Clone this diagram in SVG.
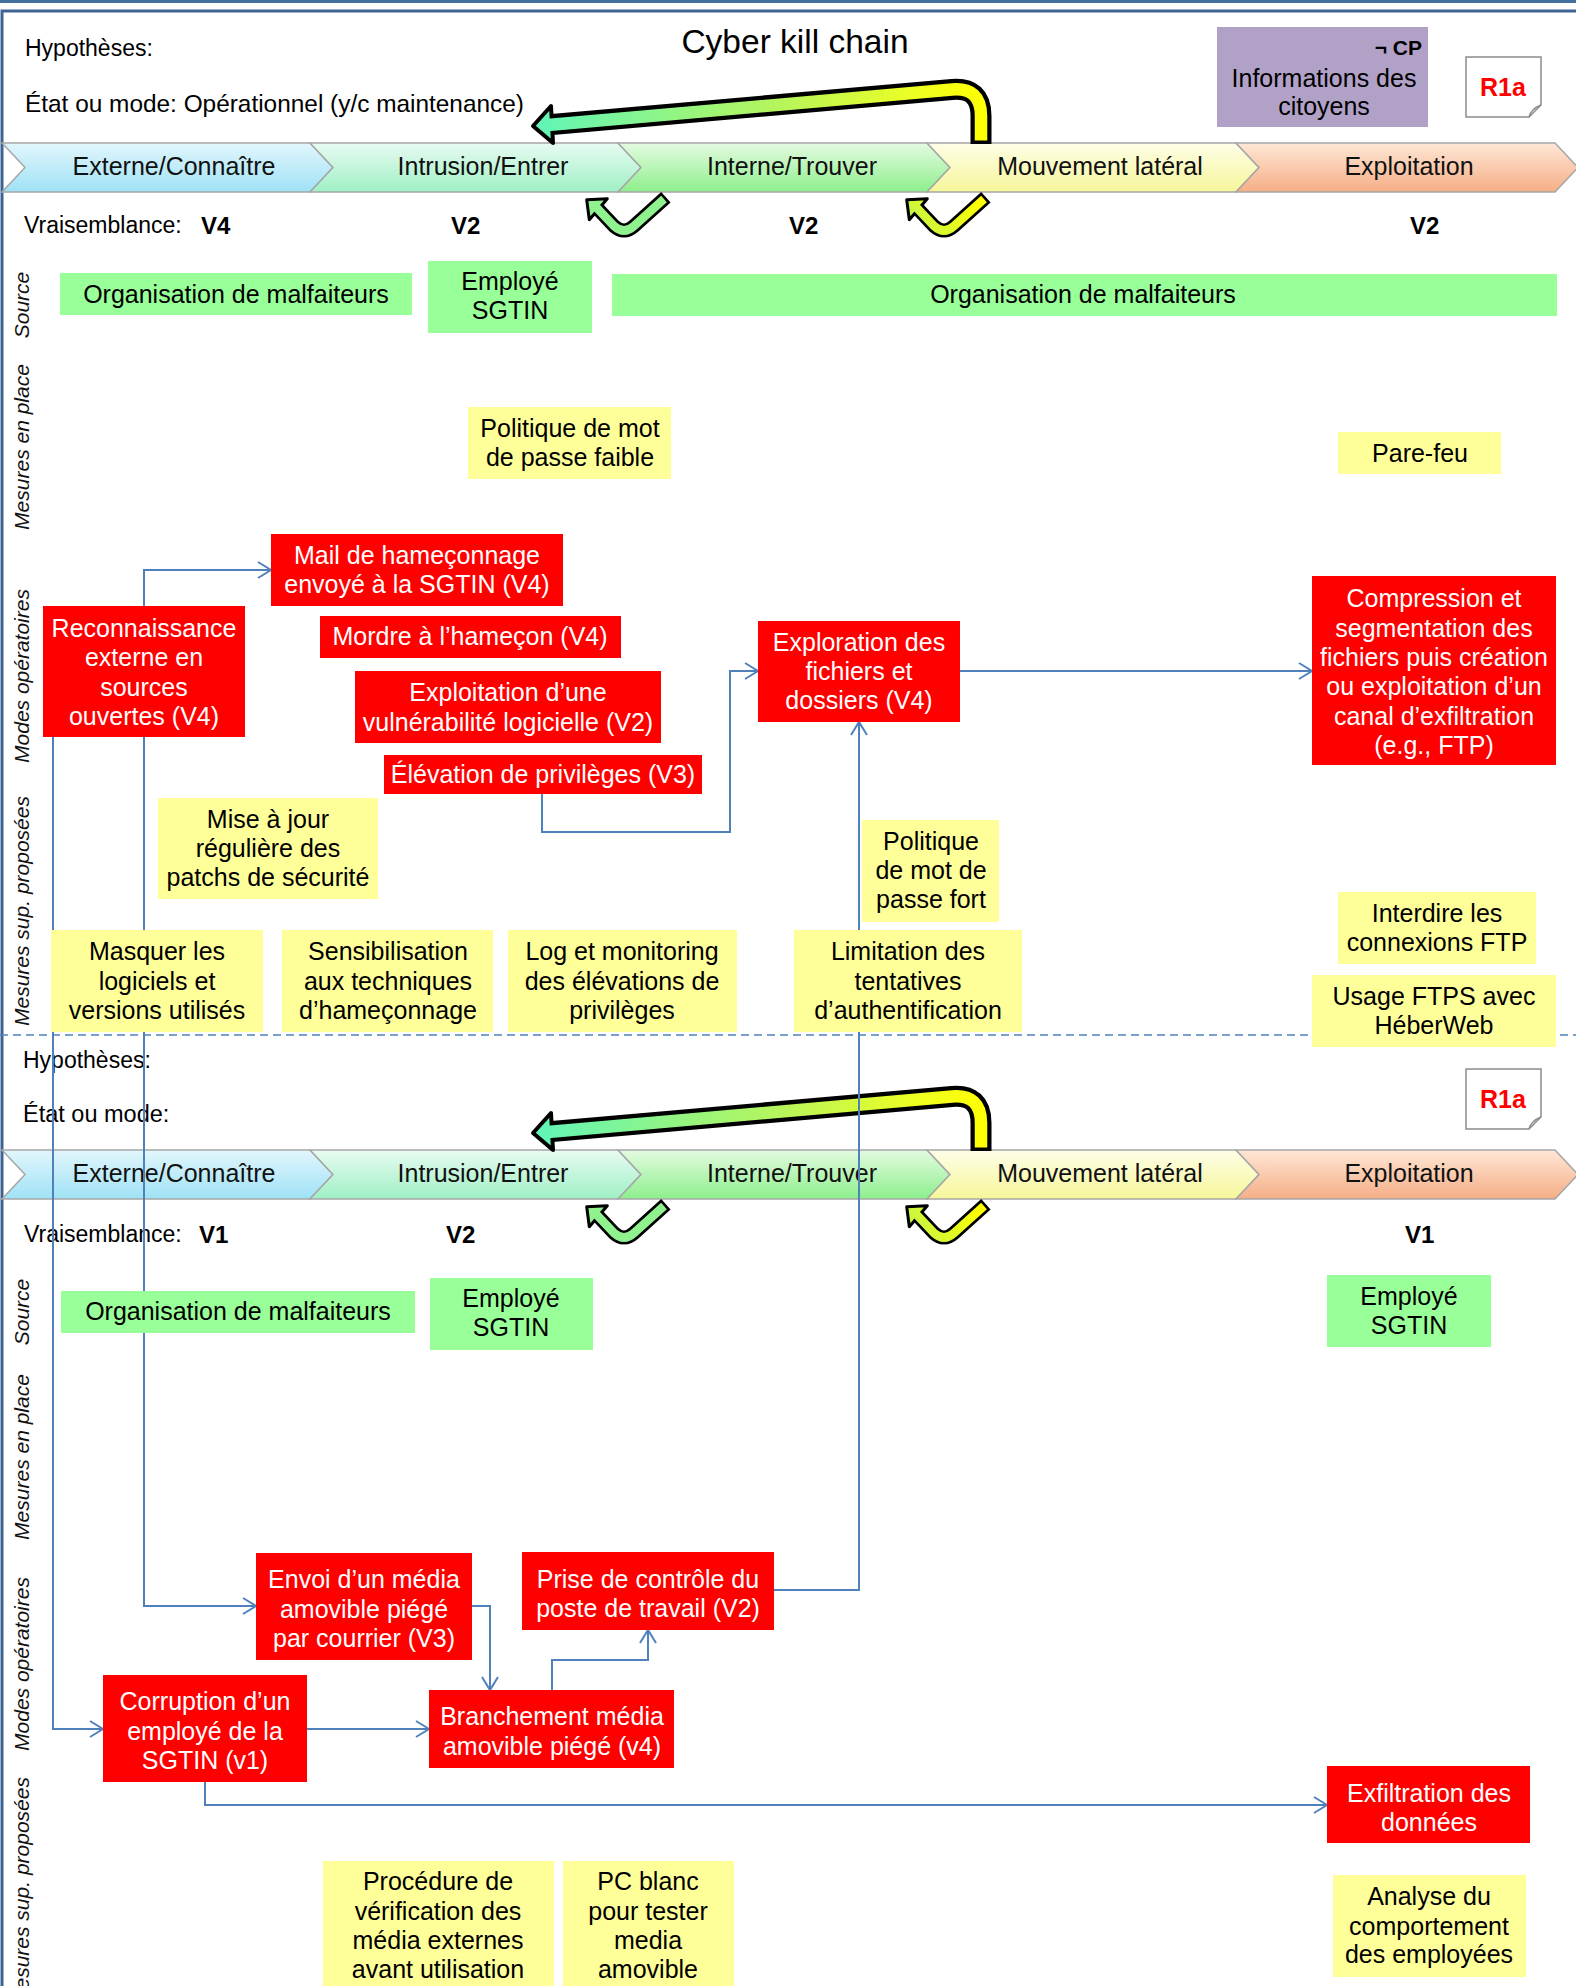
<svg xmlns="http://www.w3.org/2000/svg" width="1576" height="1986" viewBox="0 0 1576 1986">
<style>
text{font-family:"Liberation Sans",Arial,sans-serif;}
.t{font-size:25px;fill:#000;text-anchor:middle;}
.w{font-size:25px;fill:#fff;text-anchor:middle;}
.band{font-size:25px;fill:#111;text-anchor:middle;}
.hyp{font-size:23px;fill:#000;}
.vr{font-size:23px;fill:#000;}
.vb{font-size:24px;font-weight:bold;fill:#000;}
.lane{font-size:21px;font-style:italic;fill:#111;text-anchor:middle;}
.red{fill:#ff0000;}
.grn{fill:#99ff99;}
.yel{fill:#ffff99;}
.seg{stroke:#a6a6a6;stroke-width:1.5;}
.cn{fill:none;stroke:#4f81bd;stroke-width:2;marker-end:url(#arr);}
</style>
<defs>
<marker id="arr" viewBox="-15 -10 17 20" refX="0" refY="0" markerWidth="17" markerHeight="20" markerUnits="userSpaceOnUse" orient="auto">
<path d="M -13 -8 L 0 0 L -13 8" fill="none" stroke="#4f81bd" stroke-width="2"/>
</marker>
<linearGradient id="g1" x1="0" y1="0" x2="0" y2="1"><stop offset="0" stop-color="#e2f6fc"/><stop offset="1" stop-color="#9fe2f6"/></linearGradient>
<linearGradient id="g2" x1="0" y1="0" x2="0" y2="1"><stop offset="0" stop-color="#e8fbf2"/><stop offset="1" stop-color="#9ff0c5"/></linearGradient>
<linearGradient id="g3" x1="0" y1="0" x2="0" y2="1"><stop offset="0" stop-color="#e4fbe1"/><stop offset="1" stop-color="#8def8c"/></linearGradient>
<linearGradient id="g4" x1="0" y1="0" x2="0" y2="1"><stop offset="0" stop-color="#fefee8"/><stop offset="1" stop-color="#f6f69a"/></linearGradient>
<linearGradient id="g5" x1="0" y1="0" x2="0" y2="1"><stop offset="0" stop-color="#fee7d6"/><stop offset="1" stop-color="#f6ae86"/></linearGradient>
<linearGradient id="big" gradientUnits="userSpaceOnUse" x1="533" y1="0" x2="990" y2="0"><stop offset="0" stop-color="#60f5b8"/><stop offset="0.55" stop-color="#b8f55a"/><stop offset="0.85" stop-color="#f0ff20"/><stop offset="1" stop-color="#ffff00"/></linearGradient>
<linearGradient id="chk2" gradientUnits="userSpaceOnUse" x1="660" y1="198" x2="590" y2="235"><stop offset="0" stop-color="#ffff00"/><stop offset="1" stop-color="#c2f54a"/></linearGradient>
<g id="band">
<polygon class="seg" fill="url(#g1)" points="2,143 310,143 333,167.5 310,192 2,192 25,167.5"/>
<polygon class="seg" fill="url(#g2)" points="310,143 618,143 641,167.5 618,192 310,192 333,167.5"/>
<polygon class="seg" fill="url(#g3)" points="618,143 927,143 950,167.5 927,192 618,192 641,167.5"/>
<polygon class="seg" fill="url(#g4)" points="927,143 1236,143 1259,167.5 1236,192 927,192 950,167.5"/>
<polygon class="seg" fill="url(#g5)" points="1236,143 1555,143 1578,167.5 1555,192 1236,192 1259,167.5"/>
<text class="band" x="174" y="175">Externe/Connaître</text>
<text class="band" x="483" y="175">Intrusion/Entrer</text>
<text class="band" x="792" y="175">Interne/Trouver</text>
<text class="band" x="1100" y="175">Mouvement latéral</text>
<text class="band" x="1409" y="175">Exploitation</text>
</g>
<g id="bigarrow">
<path d="M 552 124.5 L 952 89.5 Q 981 87 981 116 L 981 144" fill="none" stroke="#000" stroke-width="21"/>
<polygon points="533,126 551,106 553,143" fill="url(#big)" stroke="#000" stroke-width="4" stroke-linejoin="round"/>
<path d="M 548 125 L 952 89.5 Q 981 87 981 116 L 981 140.5" fill="none" stroke="url(#big)" stroke-width="12.5"/>
</g>
<g id="chkA">
<path d="M 598 209 L 614 226 Q 624 235 634 226 L 665.9 197.3" fill="none" stroke="#000" stroke-width="14" stroke-linejoin="round"/>
<polygon points="586.7,199.7 607.3,198.7 589.3,219.7" fill="#8ff28f" stroke="#000" stroke-width="3" stroke-linejoin="round"/>
<path d="M 596 207 L 614 226 Q 624 235 634 226 L 664 199" fill="none" stroke="#8ff28f" stroke-width="8.5" stroke-linejoin="round"/>
</g>
<g id="chkB">
<path d="M 598 209 L 614 226 Q 624 235 634 226 L 665.9 197.3" fill="none" stroke="#000" stroke-width="14" stroke-linejoin="round"/>
<polygon points="586.7,199.7 607.3,198.7 589.3,219.7" fill="url(#chk2)" stroke="#000" stroke-width="3" stroke-linejoin="round"/>
<path d="M 596 207 L 614 226 Q 624 235 634 226 L 664 199" fill="none" stroke="url(#chk2)" stroke-width="8.5" stroke-linejoin="round"/>
</g>
<g id="r1a">
<path d="M 1466 57 H 1541 V 105 L 1529 117 H 1466 Z" fill="#fff" stroke="#8c8c8c" stroke-width="1.5"/>
<path d="M 1529 117 Q 1531 109 1541 105" fill="none" stroke="#8c8c8c" stroke-width="1.5"/>
<text x="1503" y="96" style="font-size:25px;font-weight:bold;fill:#ff0000;text-anchor:middle">R1a</text>
</g>
</defs>

<rect width="1576" height="1986" fill="#fff"/>
<g id="frame">
<line x1="0" y1="1.5" x2="1576" y2="1.5" stroke="#41719c" stroke-width="3"/>
<rect x="2" y="11" width="1600" height="2000" fill="none" stroke="#3d6391" stroke-width="3"/>
</g>

<!-- Section 1 header -->
<g id="header1">
<text class="hyp" x="25" y="56">Hypothèses:</text>
<text x="25" y="112" style="font-size:24.4px">État ou mode: Opérationnel (y/c maintenance)</text>
<text x="795" y="53" style="font-size:33.5px;text-anchor:middle">Cyber kill chain</text>
</g>
<g id="actif">
<rect x="1217" y="27" width="211" height="100" fill="#b2a1c7"/>
<text x="1422" y="55" style="font-size:21px;font-weight:bold;text-anchor:end">¬ CP</text>
<text class="t" x="1324" y="87">Informations des</text>
<text class="t" x="1324" y="115">citoyens</text>
</g>
<use href="#r1a"/>
<use href="#band"/>
<use href="#bigarrow"/>
<use href="#chkA"/>
<use href="#chkB" transform="translate(320,0)"/>
<g id="vrais1">
<text class="vr" x="24" y="233">Vraisemblance:</text>
<text class="vb" x="201" y="234">V4</text>
<text class="vb" x="451" y="234">V2</text>
<text class="vb" x="789" y="234">V2</text>
<text class="vb" x="1410" y="234">V2</text>
</g>
<g id="lanes1">
<text class="lane" transform="translate(29,305) rotate(-90)">Source</text>
<text class="lane" transform="translate(29,447) rotate(-90)">Mesures en place</text>
<text class="lane" transform="translate(29,676) rotate(-90)">Modes opératoires</text>
<text class="lane" transform="translate(29,911) rotate(-90)">Mesures sup. proposées</text>
</g>
<line x1="0" y1="1035" x2="1576" y2="1035" stroke="#4f81bd" stroke-width="1.5" stroke-dasharray="8 5"/>

<!-- Section 2 header -->
<g id="header2">
<text class="hyp" x="23" y="1068">Hypothèses:</text>
<text x="23" y="1122" style="font-size:23.5px">État ou mode:</text>
</g>
<use href="#r1a" transform="translate(0,1012)"/>
<use href="#band" transform="translate(0,1007)"/>
<use href="#bigarrow" transform="translate(0,1007)"/>
<use href="#chkA" transform="translate(0,1007)"/>
<use href="#chkB" transform="translate(320,1007)"/>
<g id="vrais2">
<text class="vr" x="24" y="1242">Vraisemblance:</text>
<text class="vb" x="199" y="1243">V1</text>
<text class="vb" x="446" y="1243">V2</text>
<text class="vb" x="1405" y="1243">V1</text>
</g>
<g id="lanes2">
<text class="lane" transform="translate(29,1312) rotate(-90)">Source</text>
<text class="lane" transform="translate(29,1457) rotate(-90)">Mesures en place</text>
<text class="lane" transform="translate(29,1664) rotate(-90)">Modes opératoires</text>
<text class="lane" transform="translate(29,1892) rotate(-90)">Mesures sup. proposées</text>
</g>

<g id="connectors">
<path class="cn" d="M 144 606 V 570 H 271"/>
<path class="cn" d="M 144 737 V 1606 H 256"/>
<path class="cn" d="M 53 737 V 1729 H 103"/>
<path class="cn" d="M 542 794 V 832 H 730 V 671 H 758"/>
<path class="cn" d="M 960 671 H 1312"/>
<path class="cn" d="M 774 1590 H 859 V 722"/>
<path class="cn" d="M 472 1606 H 490 V 1690"/>
<path class="cn" d="M 552 1690 V 1660 H 648 V 1630"/>
<path class="cn" d="M 307 1729 H 429"/>
<path class="cn" d="M 205 1782 V 1805 H 1327"/>
</g>

<!-- Section 1 nodes -->
<g id="n-org1"><rect class="grn" x="60" y="273" width="352" height="42"/><text class="t" x="236" y="303">Organisation de malfaiteurs</text></g>
<g id="n-emp1"><rect class="grn" x="428" y="261" width="164" height="72"/><text class="t" x="510" y="290">Employé</text><text class="t" x="510" y="319">SGTIN</text></g>
<g id="n-org2"><rect class="grn" x="612" y="274" width="945" height="42"/><text class="t" x="1083" y="303">Organisation de malfaiteurs</text></g>
<g id="n-pol1"><rect class="yel" x="468" y="407" width="203" height="72"/><text class="t" x="570" y="437">Politique de mot</text><text class="t" x="570" y="466">de passe faible</text></g>
<g id="n-pare"><rect class="yel" x="1338" y="432" width="163" height="42"/><text class="t" x="1420" y="462">Pare-feu</text></g>
<g id="n-mail"><rect class="red" x="271" y="534" width="292" height="72"/><text class="w" x="417" y="564">Mail de hameçonnage</text><text class="w" x="417" y="593">envoyé à la SGTIN (V4)</text></g>
<g id="n-recon"><rect class="red" x="43" y="606" width="202" height="131"/><text class="w" x="144" y="637">Reconnaissance</text><text class="w" x="144" y="666">externe en</text><text class="w" x="144" y="696">sources</text><text class="w" x="144" y="725">ouvertes (V4)</text></g>
<g id="n-mordre"><rect class="red" x="320" y="616" width="301" height="42"/><text class="w" x="470" y="645">Mordre à l’hameçon (V4)</text></g>
<g id="n-vuln"><rect class="red" x="355" y="671" width="306" height="72"/><text class="w" x="508" y="701">Exploitation d’une</text><text class="w" x="508" y="731">vulnérabilité logicielle (V2)</text></g>
<g id="n-elev"><rect class="red" x="384" y="755" width="318" height="39"/><text class="w" x="543" y="783">Élévation de privilèges (V3)</text></g>
<g id="n-explor"><rect class="red" x="758" y="621" width="202" height="101"/><text class="w" x="859" y="651">Exploration des</text><text class="w" x="859" y="680">fichiers et</text><text class="w" x="859" y="709">dossiers (V4)</text></g>
<g id="n-compr"><rect class="red" x="1312" y="576" width="244" height="189"/><text class="w" x="1434" y="607">Compression et</text><text class="w" x="1434" y="637">segmentation des</text><text class="w" x="1434" y="666">fichiers puis création</text><text class="w" x="1434" y="695">ou exploitation d’un</text><text class="w" x="1434" y="725">canal d’exfiltration</text><text class="w" x="1434" y="754">(e.g., FTP)</text></g>
<g id="n-maj"><rect class="yel" x="158" y="798" width="220" height="101"/><text class="t" x="268" y="828">Mise à jour</text><text class="t" x="268" y="857">régulière des</text><text class="t" x="268" y="886">patchs de sécurité</text></g>
<g id="n-polfort"><rect class="yel" x="862" y="820" width="137" height="102"/><text class="t" x="931" y="850">Politique</text><text class="t" x="931" y="879">de mot de</text><text class="t" x="931" y="908">passe fort</text></g>
<g id="n-masq"><rect class="yel" x="51" y="930" width="212" height="102"/><text class="t" x="157" y="960">Masquer les</text><text class="t" x="157" y="990">logiciels et</text><text class="t" x="157" y="1019">versions utilisés</text></g>
<g id="n-sens"><rect class="yel" x="282" y="930" width="211" height="102"/><text class="t" x="388" y="960">Sensibilisation</text><text class="t" x="388" y="990">aux techniques</text><text class="t" x="388" y="1019">d’hameçonnage</text></g>
<g id="n-log"><rect class="yel" x="508" y="930" width="229" height="102"/><text class="t" x="622" y="960">Log et monitoring</text><text class="t" x="622" y="990">des élévations de</text><text class="t" x="622" y="1019">privilèges</text></g>
<g id="n-limit"><rect class="yel" x="794" y="930" width="228" height="102"/><text class="t" x="908" y="960">Limitation des</text><text class="t" x="908" y="990">tentatives</text><text class="t" x="908" y="1019">d’authentification</text></g>
<g id="n-interd"><rect class="yel" x="1338" y="892" width="198" height="72"/><text class="t" x="1437" y="922">Interdire les</text><text class="t" x="1437" y="951">connexions FTP</text></g>
<g id="n-ftps"><rect class="yel" x="1312" y="975" width="244" height="72"/><text class="t" x="1434" y="1005">Usage FTPS avec</text><text class="t" x="1434" y="1034">HéberWeb</text></g>

<!-- Section 2 nodes -->
<g id="n-org3"><rect class="grn" x="61" y="1291" width="354" height="42"/><text class="t" x="238" y="1320">Organisation de malfaiteurs</text></g>
<g id="n-emp2"><rect class="grn" x="430" y="1278" width="163" height="72"/><text class="t" x="511" y="1307">Employé</text><text class="t" x="511" y="1336">SGTIN</text></g>
<g id="n-emp3"><rect class="grn" x="1327" y="1275" width="164" height="72"/><text class="t" x="1409" y="1305">Employé</text><text class="t" x="1409" y="1334">SGTIN</text></g>
<g id="n-envoi"><rect class="red" x="256" y="1553" width="216" height="107"/><text class="w" x="364" y="1588">Envoi d’un média</text><text class="w" x="364" y="1618">amovible piégé</text><text class="w" x="364" y="1647">par courrier (V3)</text></g>
<g id="n-prise"><rect class="red" x="522" y="1552" width="252" height="78"/><text class="w" x="648" y="1588">Prise de contrôle du</text><text class="w" x="648" y="1617">poste de travail (V2)</text></g>
<g id="n-corr"><rect class="red" x="103" y="1675" width="204" height="107"/><text class="w" x="205" y="1710">Corruption d’un</text><text class="w" x="205" y="1740">employé de la</text><text class="w" x="205" y="1769">SGTIN (v1)</text></g>
<g id="n-branch"><rect class="red" x="429" y="1690" width="245" height="78"/><text class="w" x="552" y="1725">Branchement média</text><text class="w" x="552" y="1755">amovible piégé (v4)</text></g>
<g id="n-exfil"><rect class="red" x="1327" y="1766" width="203" height="77"/><text class="w" x="1429" y="1802">Exfiltration des</text><text class="w" x="1429" y="1831">données</text></g>
<g id="n-proc"><rect class="yel" x="323" y="1861" width="231" height="130"/><text class="t" x="438" y="1890">Procédure de</text><text class="t" x="438" y="1920">vérification des</text><text class="t" x="438" y="1949">média externes</text><text class="t" x="438" y="1978">avant utilisation</text></g>
<g id="n-pc"><rect class="yel" x="563" y="1861" width="171" height="130"/><text class="t" x="648" y="1890">PC blanc</text><text class="t" x="648" y="1920">pour tester</text><text class="t" x="648" y="1949">media</text><text class="t" x="648" y="1978">amovible</text></g>
<g id="n-analyse"><rect class="yel" x="1333" y="1875" width="193" height="102"/><text class="t" x="1429" y="1905">Analyse du</text><text class="t" x="1429" y="1935">comportement</text><text class="t" x="1429" y="1963">des employées</text></g>
</svg>
